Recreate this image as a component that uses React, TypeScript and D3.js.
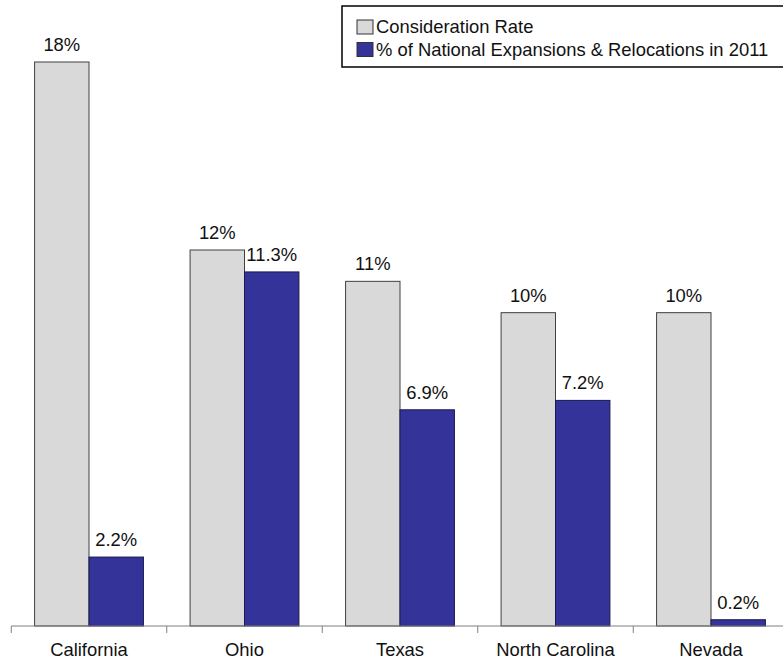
import React from "react";
import * as d3 from "d3";

const categories = ["California", "Ohio", "Texas", "North Carolina", "Nevada"];
const considerationRate = [18, 12, 11, 10, 10];
const expansionShare = [2.2, 11.3, 6.9, 7.2, 0.2];
const seriesNames = ["Consideration Rate", "% of National Expansions & Relocations in 2011"];
const seriesColors = ["#d9d9d9", "#333399"];
const seriesStrokes = ["#404040", "#1a1a4d"];
const seriesLabels = [(v: number) => `${d3.format(".0f")(v)}%`, (v: number) => `${d3.format(".1f")(v)}%`];

const W = 783;
const H = 660;
const FONT = "'Liberation Sans', Arial, sans-serif";
const FS = 18.4;

export default function App() {
  const x = d3.scaleBand<string>().domain(categories).range([11.25, 788.75]).paddingInner(0.3).paddingOuter(0.15);
  const xs = d3.scaleBand<number>().domain([0, 1]).range([0, x.bandwidth()]).padding(0);
  const y = d3.scaleLinear().domain([0, 18]).range([626, 62]);
  const series = [considerationRate, expansionShare];
  const step = x.step();
  const tickXs = d3.range(categories.length + 1).map((i) => 11.25 + i * step);

  return (
    <svg width={W} height={H} style={{ position: "absolute", left: 0, top: 0, background: "#fff" }} fontFamily={FONT}>
      {series.map((vals, si) =>
        vals.map((v, i) => {
          const bx = (x(categories[i]) ?? 0) + (xs(si) ?? 0);
          const bw = xs.bandwidth();
          return (
            <g key={`${si}-${i}`}>
              <rect x={bx} y={y(v)} width={bw} height={y(0) - y(v)} fill={seriesColors[si]} stroke={seriesStrokes[si]} strokeWidth={1} />
              <text x={bx + bw / 2} y={y(v) - 11} textAnchor="middle" fontSize={FS} fill="#111">
                {seriesLabels[si](v)}
              </text>
            </g>
          );
        })
      )}
      <line x1={11.25} x2={W} y1={y(0)} y2={y(0)} stroke="#808080" strokeWidth={1.2} />
      {tickXs.map((tx, i) => (
        <line key={i} x1={tx} x2={tx} y1={y(0)} y2={y(0) + 7} stroke="#808080" strokeWidth={1} />
      ))}
      {categories.map((c) => (
        <text key={c} x={(x(c) ?? 0) + x.bandwidth() / 2} y={656} textAnchor="middle" fontSize={FS} fill="#111">
          {c}
        </text>
      ))}
      <g>
        <rect x={342} y={6} width={460} height={61} fill="#fff" stroke="#000" strokeWidth={1.5} />
        {seriesNames.map((n, i) => (
          <g key={n} transform={`translate(357, ${20 + i * 22.5})`}>
            <rect x={0} y={0} width={16} height={14} fill={seriesColors[i]} stroke="#333" strokeWidth={1} />
            <text x={19} y={13} fontSize={FS} fill="#111">
              {n}
            </text>
          </g>
        ))}
      </g>
    </svg>
  );
}
